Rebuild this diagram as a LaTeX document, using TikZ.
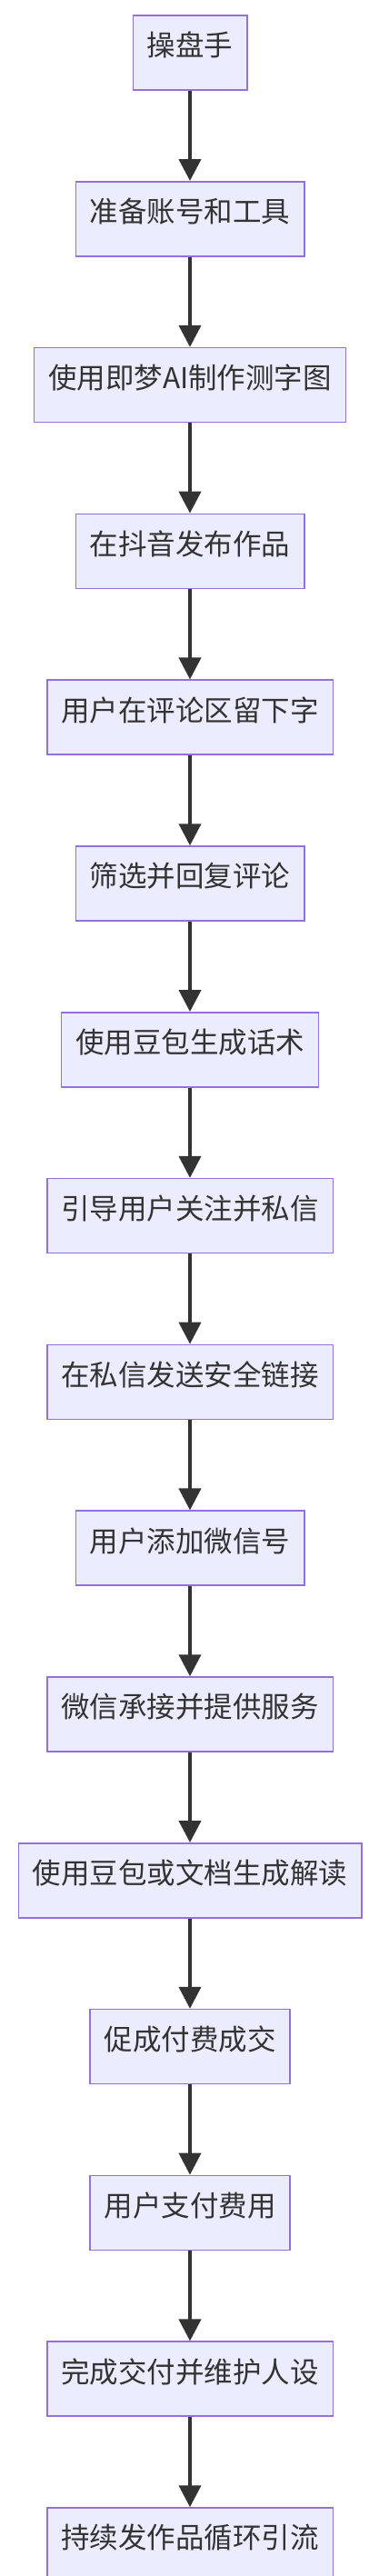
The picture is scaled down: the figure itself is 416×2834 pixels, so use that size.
\documentclass[tikz,border=0pt]{standalone}
\usepackage{fontspec}
\usepackage{tikz}
\usetikzlibrary{positioning,arrows.meta}
\newfontfamily\cjk{Noto Sans CJK SC}
\definecolor{boxfill}{HTML}{ECECFF}
\definecolor{boxline}{HTML}{9370DB}
\definecolor{ink}{HTML}{333333}

\begin{document}
\begin{tikzpicture}[>={Triangle[length=24pt,width=24pt]}, node distance=99.3pt]
    \tikzstyle{box}=[rectangle,draw=boxline,fill=boxfill,line width=1.5pt,text=ink,font=\cjk\fontsize{31.5pt}{36pt}\selectfont,inner xsep=15.5pt,minimum height=82pt,text height=0.76em,text depth=0pt]
    \tikzstyle{flow}=[->,draw=ink,line width=4pt]
    \useasboundingbox (0,0) rectangle (416pt,-2834pt);
    \node[box] (trader) at (209pt,-58pt) {操盘手};
    \node[box,below=of trader] (prep) {准备账号和工具};
    \node[box,below=of prep] (image) {使用即梦AI制作测字图};
    \node[box,below=of image] (post) {在抖音发布作品};
    \node[box,below=of post] (comment) {用户在评论区留下字};
    \node[box,below=of comment] (reply) {筛选并回复评论};
    \node[box,below=of reply] (script) {使用豆包生成话术};
    \node[box,below=of script] (follow) {引导用户关注并私信};
    \node[box,below=of follow] (link) {在私信发送安全链接};
    \node[box,below=of link] (wechat) {用户添加微信号};
    \node[box,below=of wechat] (serve) {微信承接并提供服务};
    \node[box,below=of serve] (reading) {使用豆包或文档生成解读};
    \node[box,below=of reading] (deal) {促成付费成交};
    \node[box,below=of deal] (pay) {用户支付费用};
    \node[box,below=of pay] (deliver) {完成交付并维护人设};
    \node[box,below=of deliver] (loop) {持续发作品循环引流};
    \draw[flow] (trader) -- (prep);
    \draw[flow] (prep) -- (image);
    \draw[flow] (image) -- (post);
    \draw[flow] (post) -- (comment);
    \draw[flow] (comment) -- (reply);
    \draw[flow] (reply) -- (script);
    \draw[flow] (script) -- (follow);
    \draw[flow] (follow) -- (link);
    \draw[flow] (link) -- (wechat);
    \draw[flow] (wechat) -- (serve);
    \draw[flow] (serve) -- (reading);
    \draw[flow] (reading) -- (deal);
    \draw[flow] (deal) -- (pay);
    \draw[flow] (pay) -- (deliver);
    \draw[flow] (deliver) -- (loop);
  \end{tikzpicture}
\end{document}
